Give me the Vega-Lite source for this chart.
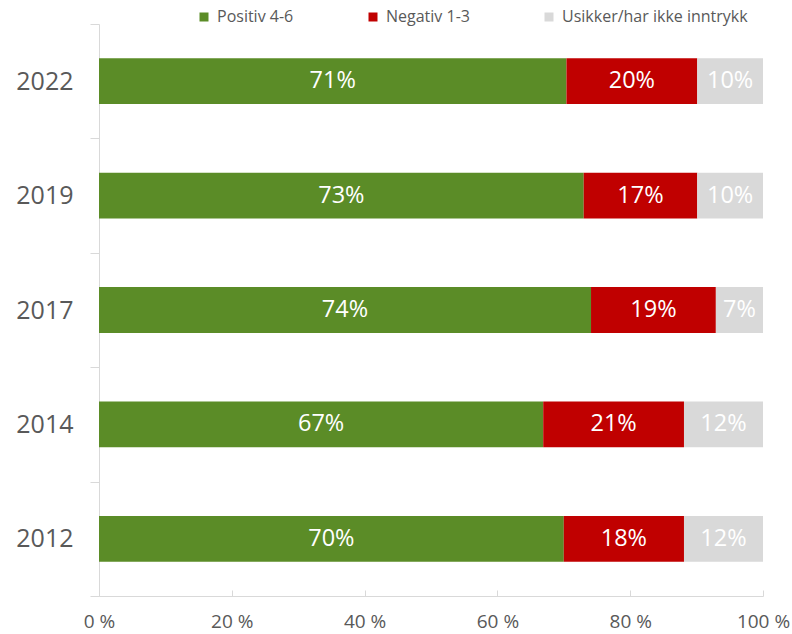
{
  "$schema": "https://vega.github.io/schema/vega-lite/v6.json",
  "width": 664,
  "height": 572,
  "autosize": {"type": "none"},
  "padding": {"left": 99, "top": 24, "right": 29, "bottom": 38},
  "config": {"view": {"stroke": null}, "font": "Open Sans"},
  "data": {
    "values": [
      {"year": "2022", "category": "Positiv 4-6", "value": 70.4, "label": "71%"},
      {"year": "2022", "category": "Negativ 1-3", "value": 19.7, "label": "20%"},
      {"year": "2022", "category": "Usikker/har ikke inntrykk", "value": 9.9, "label": "10%"},
      {"year": "2019", "category": "Positiv 4-6", "value": 73.0, "label": "73%"},
      {"year": "2019", "category": "Negativ 1-3", "value": 17.1, "label": "17%"},
      {"year": "2019", "category": "Usikker/har ikke inntrykk", "value": 9.9, "label": "10%"},
      {"year": "2017", "category": "Positiv 4-6", "value": 74.1, "label": "74%"},
      {"year": "2017", "category": "Negativ 1-3", "value": 18.8, "label": "19%"},
      {"year": "2017", "category": "Usikker/har ikke inntrykk", "value": 7.1, "label": "7%"},
      {"year": "2014", "category": "Positiv 4-6", "value": 66.9, "label": "67%"},
      {"year": "2014", "category": "Negativ 1-3", "value": 21.2, "label": "21%"},
      {"year": "2014", "category": "Usikker/har ikke inntrykk", "value": 11.9, "label": "12%"},
      {"year": "2012", "category": "Positiv 4-6", "value": 70.0, "label": "70%"},
      {"year": "2012", "category": "Negativ 1-3", "value": 18.1, "label": "18%"},
      {"year": "2012", "category": "Usikker/har ikke inntrykk", "value": 11.9, "label": "12%"}
    ]
  },
  "transform": [
    {"calculate": "indexof(['Positiv 4-6','Negativ 1-3','Usikker/har ikke inntrykk'], datum.category)", "as": "ord"},
    {"stack": "value", "groupby": ["year"], "sort": [{"field": "ord", "order": "ascending"}], "as": ["v0", "v1"]},
    {"calculate": "(datum.v0 + datum.v1) / 2", "as": "mid"}
  ],
  "encoding": {
    "y": {
      "field": "year",
      "type": "nominal",
      "sort": ["2022", "2019", "2017", "2014", "2012"],
      "scale": {"paddingInner": 0, "paddingOuter": 0},
      "axis": {
        "title": null,
        "domainColor": "#D9D9D9",
        "tickColor": "#D9D9D9",
        "tickBand": "extent",
        "tickSize": 9,
        "labelFontSize": 25,
        "labelColor": "#595959",
        "labelPadding": 17
      }
    }
  },
  "layer": [
    {
      "mark": {"type": "bar", "height": {"band": 0.4}},
      "encoding": {
        "x": {
          "field": "v0",
          "type": "quantitative",
          "scale": {"domain": [0, 100], "nice": false},
          "axis": {
            "title": null,
            "values": [0, 20, 40, 60, 80, 100],
            "labelExpr": "datum.value + ' %'",
            "labelFlush": false,
            "grid": false,
            "domainColor": "#D9D9D9",
            "tickColor": "#D9D9D9",
            "tickSize": -6,
            "labelFontSize": 19,
            "labelColor": "#595959",
            "labelPadding": 22
          }
        },
        "x2": {"field": "v1"},
        "color": {
          "field": "category",
          "type": "nominal",
          "sort": ["Positiv 4-6", "Negativ 1-3", "Usikker/har ikke inntrykk"],
          "scale": {
            "domain": ["Positiv 4-6", "Negativ 1-3", "Usikker/har ikke inntrykk"],
            "range": ["#5B8C27", "#C00000", "#D9D9D9"]
          },
          "legend": {
            "title": null,
            "orient": "none",
            "legendX": 97,
            "legendY": -15,
            "direction": "horizontal",
            "columns": 3,
            "columnPadding": 71,
            "symbolType": "square",
            "symbolSize": 81,
            "symbolStrokeWidth": 0,
            "labelFontSize": 16,
            "labelLimit": 0,
            "labelColor": "#595959",
            "labelOffset": 5,
            "padding": 0
          }
        }
      }
    },
    {
      "mark": {"type": "text", "color": "white", "fontSize": 23.5},
      "encoding": {
        "x": {"field": "mid", "type": "quantitative"},
        "text": {"field": "label"}
      }
    }
  ]
}
